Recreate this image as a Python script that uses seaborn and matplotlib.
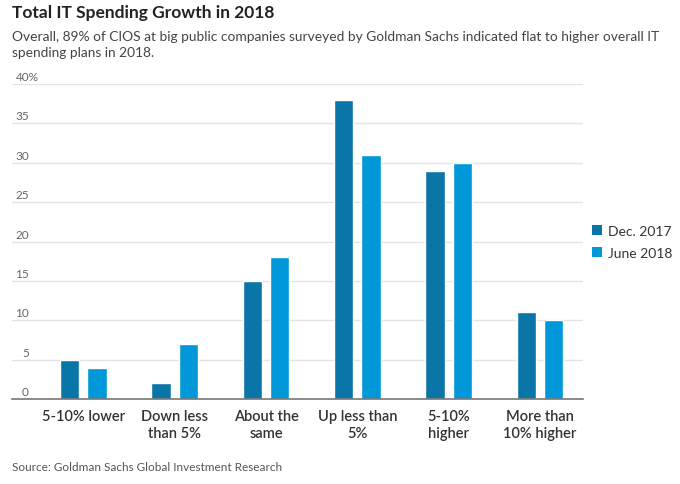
import matplotlib
matplotlib.use("Agg")
import matplotlib.pyplot as plt
import seaborn as sns
import pandas as pd
from matplotlib.patches import Patch
from matplotlib.transforms import blended_transform_factory

categories = ["5-10% lower", "Down less\nthan 5%", "About the\nsame", "Up less than\n5%", "5-10%\nhigher", "More than\n10% higher"]
dec_2017 = [5, 2, 15, 38, 29, 11]
june_2018 = [4, 7, 18, 31, 30, 10]
series_names = ["Dec. 2017", "June 2018"]
y_ticks = [0, 5, 10, 15, 20, 25, 30, 35, 40]
y_tick_labels = ["0", "5", "10", "15", "20", "25", "30", "35", "40%"]

colors = ["#0a76a8", "#0098d9"]

df = pd.DataFrame({
    "category": categories * 2,
    "series": [series_names[0]] * len(categories) + [series_names[1]] * len(categories),
    "value": dec_2017 + june_2018,
})

sns.set_style("white")
font = ["Lato", "DejaVu Sans"]
plt.rcParams["font.family"] = font

fig = plt.figure(figsize=(6.8, 4.85), dpi=100)
ax = fig.add_axes([12 / 680, 1 - 400 / 485, (583 - 12) / 680, (400 - 85) / 485])

sns.barplot(data=df, x="category", y="value", hue="series", palette=colors,
            width=0.6, gap=0.3, ax=ax, legend=False, saturation=1)

ax.set_ylim(0, 40)
ax.set_xlim(-0.78, 5.47)
ax.set_yticks(y_ticks)
ax.set_yticklabels([])
ax.tick_params(axis="y", length=0)
ax.tick_params(axis="x", length=0, pad=7)
ax.set_xticks(range(len(categories)))
ax.set_xticklabels(categories, fontsize=10.5, color="#333333", linespacing=1.3,
                   fontweight="semibold")
ax.set_xlabel("")
ax.set_ylabel("")
for t in y_ticks[1:]:
    ax.axhline(t, color="#e4e4e4", lw=1, zorder=0)
trans = blended_transform_factory(fig.transFigure, ax.transData)
for t, lab in zip(y_ticks, y_tick_labels):
    if lab.endswith("%"):
        ax.text(16 / 680, t + 0.25, lab, transform=trans,
                fontsize=8.5, color="#666666", ha="left", va="bottom")
    else:
        ax.text(29 / 680, t + 0.25, lab, transform=trans,
                fontsize=8.5, color="#666666", ha="right", va="bottom")
for s in ["top", "right", "left"]:
    ax.spines[s].set_visible(False)
ax.spines["bottom"].set_color("#777777")
ax.spines["bottom"].set_linewidth(1.2)

fig.text(12 / 680, 1 - 13 / 485, "Total IT Spending Growth in 2018", fontsize=12.5,
         fontweight="bold", color="#222222", ha="left", va="center")
fig.text(12 / 680, 1 - 45 / 485,
         "Overall, 89% of CIOS at big public companies surveyed by Goldman Sachs indicated flat to higher overall IT\nspending plans in 2018.",
         fontsize=9.9, color="#444444", ha="left", va="center", linespacing=1.4)
fig.text(12 / 680, 1 - 468 / 485, "Source: Goldman Sachs Global Investment Research",
         fontsize=8.5, color="#555555", ha="left", va="center")

handles = [Patch(facecolor=c, edgecolor="none") for c in colors]
fig.legend(handles, series_names, loc="center left", bbox_to_anchor=(592 / 680, 1 - 243 / 485),
           frameon=False, fontsize=10, handlelength=0.75, handleheight=0.75,
           handletextpad=0.4, labelspacing=0.7, labelcolor="#333333",
           borderaxespad=0, borderpad=0)

fig.savefig("out.png", dpi=100)
